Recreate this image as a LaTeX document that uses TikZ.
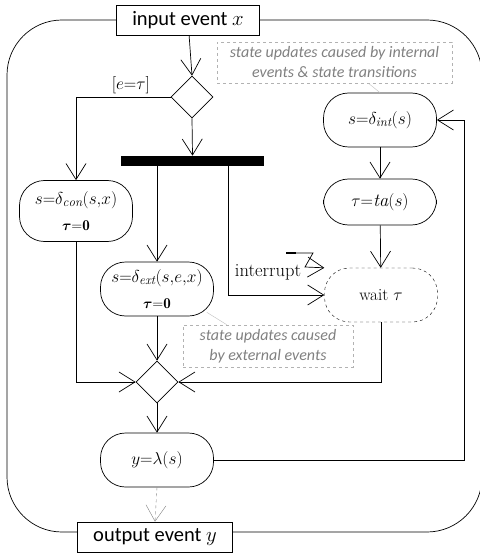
\documentclass[tikz,border=0pt]{standalone}
\usepackage{amsmath}
\usepackage{amssymb}
\usepackage{fontspec}
\newfontfamily\calib{Carlito}
\usepackage{tikz}
\usetikzlibrary{calc,shapes.geometric,arrows.meta}

\newcommand{\zerotau}{{\fontsize{15}{26}\selectfont$\boldsymbol{\tau}\mathbf{{=}0}$}}

\tikzset{
    activity/.style={draw, rounded corners=25pt, minimum width=113pt, minimum height=54pt, align=center, inner sep=2pt},
    twoline/.style={font=\fontsize{18.5}{26}\selectfont},
    decision/.style={draw, diamond, minimum width=42pt, minimum height=42pt, inner sep=0pt},
    forkbar/.style={fill=black, minimum width=143pt, minimum height=10pt, inner sep=0pt},
    iobox/.style={draw, fill=white, font=\calib\fontsize{20.5}{22}\selectfont, minimum height=30pt, inner xsep=16pt, inner ysep=2pt},
    notebox/.style={draw=gray!60, dashed, text=gray, font=\calib\itshape\fontsize{16}{20}\selectfont, align=center, inner sep=2pt},
    notelink/.style={draw=gray!50, thin},
}

\begin{document}
\begin{tikzpicture}[x=1pt, y=-1pt, line width=0.7pt,
        >={Straight Barb[length=16pt, width=20pt]},
        font=\fontsize{18.5}{20}\selectfont]
            \useasboundingbox (0,0) rectangle (479,556);

            % outer frame
            \draw[rounded corners=55pt] (7,20) rectangle (482,532);

            \node[iobox] (in) at (188,20) {input event $x$};
            \node[iobox] (out) at (155,537) {output event $y$};

            \node[decision] (dec) at (192,97) {};
            \node[forkbar] (bar) at (192.5,161) {};
            \coordinate (forkR) at (228,166);

            \node[activity, twoline, minimum height=61pt] (con) at (76,211) {$s{=}\delta_{\mathit{con}}(s{,}x)$\\ \zerotau};
            \node[activity, twoline] (ext) at (157,289) {$s{=}\delta_{\mathit{ext}}(s{,}e{,}x)$\\ \zerotau};

            \node[activity] (int) at (380,120) {$s{=}\delta_{\mathit{int}}(s)$};
            \node[activity, minimum height=46pt] (ta) at (380,202) {$\tau{=}\mathit{ta}(s)$};
            \node[activity, dashed, thin, font=\fontsize{17}{19}\selectfont] (wait) at (381,295) {wait $\tau$};

            \node[decision] (mrg) at (157,382) {};
            \node[activity] (lam) at (157,460) {$y{=}\lambda(s)$};

            \node (intr) at (268,272) {interrupt};
            \coordinate (zap) at (286,253);
            \coordinate (back) at (464,120);

            \node[notebox, minimum width=235pt, minimum height=41pt] (note1) at (334.5,62.5) {state updates caused by internal\\ events \& state transitions};
            \node[notebox, minimum width=170pt, minimum height=42pt] (note2) at (268,346) {state updates caused\\ by external events};

            \draw[->] (in) -- (dec.north);
            \draw[->] (dec.west) -| node[pos=0.21, above, font=\fontsize{16}{18}\selectfont] {$[e{=}\tau]$} (con.north);
            \draw[->] (dec.south) -- (bar.north);
            \draw[->] (bar.south -| ext.north) -- (ext.north);
            \draw[->] (forkR) |- (wait.west);

            \draw[->] (int) -- (ta);
            \draw[->] (ta) -- (wait);

            \draw[line width=2pt] (zap) -- ++(10,0);
            \draw[->] (zap) -- ++(27,0) -- ++(-8,14) -- (wait.north west);

            \draw[->] (con.south) |- (mrg.west);
            \draw[->] (ext.south) -- (mrg.north);
            \draw[->] (wait.south) |- (mrg.east);
            \draw[->] (mrg.south) -- (lam.north);
            \draw[->] (lam.east) -| (back) -- (int.east);
            \draw[->, dashed, draw=gray, thin] (lam.south) -- (out.north);

            \draw[notelink] ($(note1.south)+(34,0)$) -- (int.north);
            \draw[notelink] ($(note2.north west)+(44,0)$) -- ($(ext.south east)+(-7,-4)$);
        \end{tikzpicture}
\end{document}
